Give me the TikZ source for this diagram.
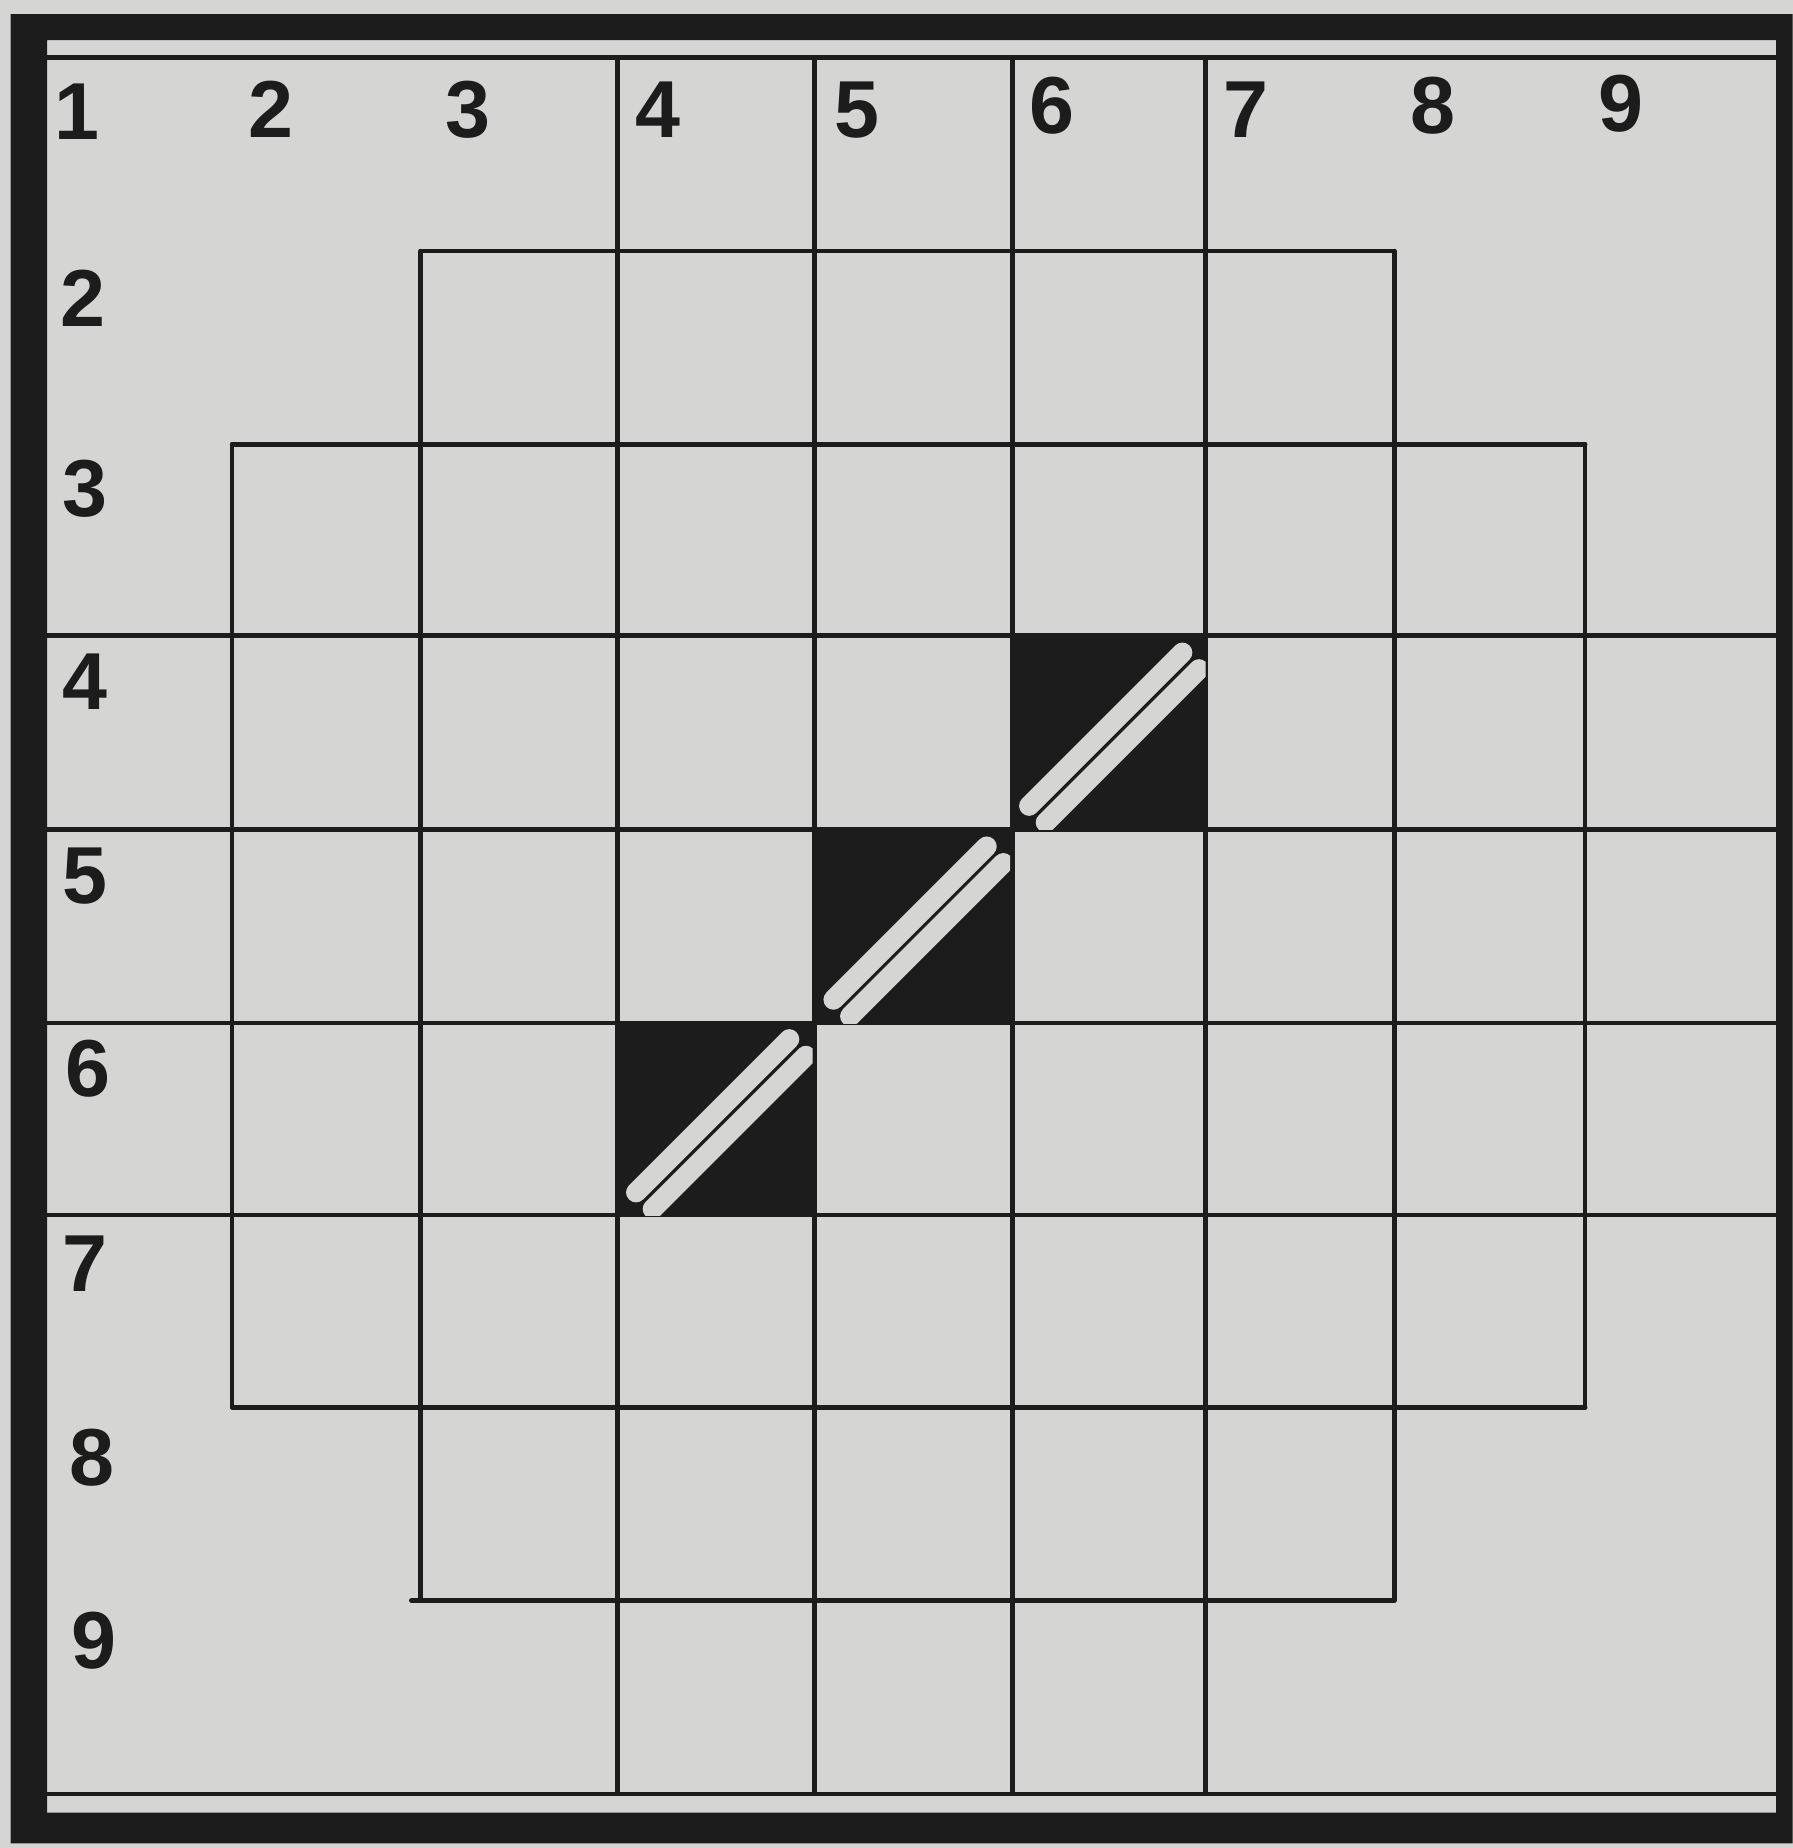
\documentclass[tikz,border=0pt]{standalone}
\usepackage{fontspec}
\setmainfont{Liberation Sans}
\definecolor{paper}{RGB}{213,213,211}
\definecolor{ink}{RGB}{28,28,28}
\newcommand\cellstripes[2]{%
  \begin{scope}
    \clip ({#1-82},{#2-82}) rectangle ({#1+82},{#2+82});
    \draw[stripelight] ({#1-2.8-65},{#2-2.8+65}) -- ({#1-2.8+65},{#2-2.8-65});
    \draw[stripelight] ({#1+11.3-65},{#2+11.3+65}) -- ({#1+11.3+65},{#2+11.3-65});
  \end{scope}}
\begin{document}
\begin{tikzpicture}[x=0.01cm,y=-0.01cm,
  gridline/.style={draw=ink,line width=1.1pt,line cap=round},
  blackcell/.style={fill=ink},
  stripelight/.style={draw=paper,line width=0.17cm,line cap=round},
  lab/.style={font=\fontsize{19.5}{20}\selectfont\bfseries,text=ink,inner sep=0pt}]
\fill[paper] (0,0) rectangle (1521,1568);
\useasboundingbox (0,0) rectangle (1521,1568);
% thick outer frame
\fill[ink,even odd rule] (9,12) rectangle (1521,1564) (40,34) rectangle (1507,1538);
% inner thin lines top and bottom
\draw[gridline] (40,49) -- (1507,49);
\draw[gridline] (40,1522) -- (1507,1522);
% black cells
\fill[blackcell] (859,539) rectangle (1023,704);
\fill[blackcell] (691,704) rectangle (859,868);
\fill[blackcell] (524,868) rectangle (691,1031);
% horizontal grid lines
\draw[gridline] (357,213) -- (1183,213);
\draw[gridline] (197,377) -- (1345,377);
\draw[gridline] (40,539) -- (1507,539);
\draw[gridline] (40,704) -- (1507,704);
\draw[gridline] (40,868) -- (1507,868);
\draw[gridline] (40,1031) -- (1507,1031);
\draw[gridline] (197,1194) -- (1345,1194);
\draw[gridline] (349,1358) -- (1183,1358);
% vertical grid lines
\draw[gridline] (197,377) -- (197,1194);
\draw[gridline] (357,213) -- (357,1358);
\draw[gridline] (524,49) -- (524,1522);
\draw[gridline] (691,49) -- (691,1522);
\draw[gridline] (859,49) -- (859,1522);
\draw[gridline] (1023,49) -- (1023,1522);
\draw[gridline] (1183,213) -- (1183,1358);
\draw[gridline] (1345,377) -- (1345,1194);
% diagonal double stripes in the black cells
\cellstripes{941}{621.5}
\cellstripes{775}{786}
\cellstripes{607.5}{949.5}
% column labels
\node[lab] (c1) at (65,95) {1};
\node[lab] (c2) at (230,93) {2};
\node[lab] (c3) at (397,93) {3};
\node[lab] (c4) at (558,93) {4};
\node[lab] (c5) at (727,93) {5};
\node[lab] (c6) at (893,90) {6};
\node[lab] (c7) at (1057,93) {7};
\node[lab] (c8) at (1216,90) {8};
\node[lab] (c9) at (1375,88) {9};
% row labels
\node[lab] (r2) at (70,253) {2};
\node[lab] (r3) at (72,415) {3};
\node[lab] (r4) at (72,578) {4};
\node[lab] (r5) at (72,743) {5};
\node[lab] (r6) at (75,907) {6};
\node[lab] (r7) at (72,1072) {7};
\node[lab] (r8) at (78,1237) {8};
\node[lab] (r9) at (80,1392) {9};
\end{tikzpicture}
\end{document}
